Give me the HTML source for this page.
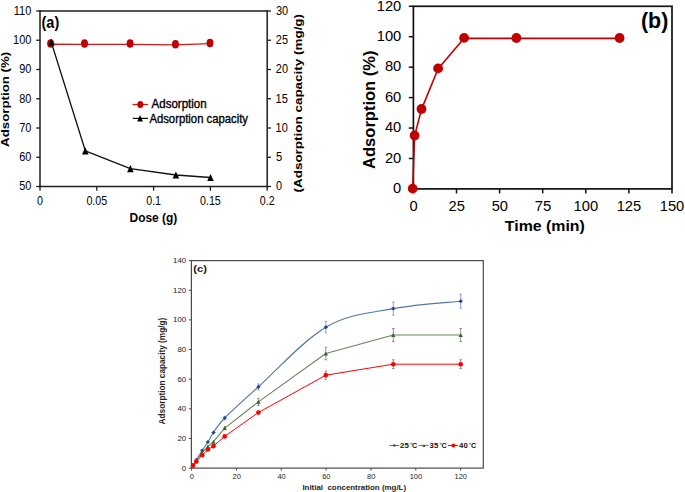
<!DOCTYPE html>
<html><head><meta charset="utf-8"><style>
html,body{margin:0;padding:0;background:#fff;}
body{width:685px;height:492px;overflow:hidden;}
svg{display:block;font-family:"Liberation Sans",sans-serif;}
text{white-space:pre;}
</style></head><body>
<svg width="685" height="492" viewBox="0 0 685 492" xml:space="preserve">
<rect width="685" height="492" fill="#fff"/>
<line x1="40.00" y1="11.00" x2="267.20" y2="11.00" stroke="#1e1e1e" stroke-width="1.5"/>
<line x1="40.00" y1="10.25" x2="40.00" y2="187.25" stroke="#1e1e1e" stroke-width="1.5"/>
<line x1="39.25" y1="186.50" x2="267.95" y2="186.50" stroke="#1e1e1e" stroke-width="1.5"/>
<line x1="267.20" y1="10.25" x2="267.20" y2="186.50" stroke="#1e1e1e" stroke-width="1.5"/>
<line x1="36.20" y1="11.00" x2="40.00" y2="11.00" stroke="#1e1e1e" stroke-width="1.3"/>
<line x1="267.20" y1="11.00" x2="271.00" y2="11.00" stroke="#1e1e1e" stroke-width="1.3"/>
<text x="13.84" y="14.80" font-size="12.57" font-weight="normal" textLength="17.44" lengthAdjust="spacingAndGlyphs" fill="#000">110</text>
<text x="275.96" y="14.80" font-size="12.57" font-weight="normal" textLength="12.17" lengthAdjust="spacingAndGlyphs" fill="#000">30</text>
<line x1="36.20" y1="40.25" x2="40.00" y2="40.25" stroke="#1e1e1e" stroke-width="1.3"/>
<line x1="267.20" y1="40.25" x2="271.00" y2="40.25" stroke="#1e1e1e" stroke-width="1.3"/>
<text x="13.07" y="44.05" font-size="12.57" font-weight="normal" textLength="18.25" lengthAdjust="spacingAndGlyphs" fill="#000">100</text>
<text x="275.85" y="44.05" font-size="12.57" font-weight="normal" textLength="12.17" lengthAdjust="spacingAndGlyphs" fill="#000">25</text>
<line x1="36.20" y1="69.50" x2="40.00" y2="69.50" stroke="#1e1e1e" stroke-width="1.3"/>
<line x1="267.20" y1="69.50" x2="271.00" y2="69.50" stroke="#1e1e1e" stroke-width="1.3"/>
<text x="19.14" y="73.30" font-size="12.57" font-weight="normal" textLength="12.17" lengthAdjust="spacingAndGlyphs" fill="#000">90</text>
<text x="275.85" y="73.30" font-size="12.57" font-weight="normal" textLength="12.17" lengthAdjust="spacingAndGlyphs" fill="#000">20</text>
<line x1="36.20" y1="98.75" x2="40.00" y2="98.75" stroke="#1e1e1e" stroke-width="1.3"/>
<line x1="267.20" y1="98.75" x2="271.00" y2="98.75" stroke="#1e1e1e" stroke-width="1.3"/>
<text x="19.14" y="102.55" font-size="12.57" font-weight="normal" textLength="12.17" lengthAdjust="spacingAndGlyphs" fill="#000">80</text>
<text x="275.57" y="102.55" font-size="12.75" font-weight="normal" textLength="12.34" lengthAdjust="spacingAndGlyphs" fill="#000">15</text>
<line x1="36.20" y1="128.00" x2="40.00" y2="128.00" stroke="#1e1e1e" stroke-width="1.3"/>
<line x1="267.20" y1="128.00" x2="271.00" y2="128.00" stroke="#1e1e1e" stroke-width="1.3"/>
<text x="19.14" y="131.80" font-size="12.57" font-weight="normal" textLength="12.17" lengthAdjust="spacingAndGlyphs" fill="#000">70</text>
<text x="275.58" y="131.80" font-size="12.57" font-weight="normal" textLength="12.17" lengthAdjust="spacingAndGlyphs" fill="#000">10</text>
<line x1="36.20" y1="157.25" x2="40.00" y2="157.25" stroke="#1e1e1e" stroke-width="1.3"/>
<line x1="267.20" y1="157.25" x2="271.00" y2="157.25" stroke="#1e1e1e" stroke-width="1.3"/>
<text x="19.14" y="161.05" font-size="12.57" font-weight="normal" textLength="12.17" lengthAdjust="spacingAndGlyphs" fill="#000">60</text>
<text x="275.96" y="161.05" font-size="12.75" font-weight="normal" textLength="6.17" lengthAdjust="spacingAndGlyphs" fill="#000">5</text>
<line x1="36.20" y1="186.50" x2="40.00" y2="186.50" stroke="#1e1e1e" stroke-width="1.3"/>
<line x1="267.20" y1="186.50" x2="271.00" y2="186.50" stroke="#1e1e1e" stroke-width="1.3"/>
<text x="19.14" y="190.30" font-size="12.57" font-weight="normal" textLength="12.17" lengthAdjust="spacingAndGlyphs" fill="#000">50</text>
<text x="275.96" y="190.30" font-size="12.57" font-weight="normal" textLength="6.08" lengthAdjust="spacingAndGlyphs" fill="#000">0</text>
<line x1="40.00" y1="186.50" x2="40.00" y2="190.70" stroke="#1e1e1e" stroke-width="1.3"/>
<text x="37.01" y="204.50" font-size="12.29" font-weight="normal" textLength="5.94" lengthAdjust="spacingAndGlyphs" fill="#000">0</text>
<line x1="96.80" y1="186.50" x2="96.80" y2="190.70" stroke="#1e1e1e" stroke-width="1.3"/>
<text x="86.41" y="204.50" font-size="12.29" font-weight="normal" textLength="20.80" lengthAdjust="spacingAndGlyphs" fill="#000">0.05</text>
<line x1="153.60" y1="186.50" x2="153.60" y2="190.70" stroke="#1e1e1e" stroke-width="1.3"/>
<text x="146.20" y="204.50" font-size="12.29" font-weight="normal" textLength="14.86" lengthAdjust="spacingAndGlyphs" fill="#000">0.1</text>
<line x1="210.40" y1="186.50" x2="210.40" y2="190.70" stroke="#1e1e1e" stroke-width="1.3"/>
<text x="200.01" y="204.50" font-size="12.29" font-weight="normal" textLength="20.80" lengthAdjust="spacingAndGlyphs" fill="#000">0.15</text>
<line x1="267.20" y1="186.50" x2="267.20" y2="190.70" stroke="#1e1e1e" stroke-width="1.3"/>
<text x="259.82" y="204.50" font-size="12.29" font-weight="normal" textLength="14.86" lengthAdjust="spacingAndGlyphs" fill="#000">0.2</text>
<text x="129.52" y="222.30" font-size="12.41" font-weight="bold" textLength="47.78" lengthAdjust="spacingAndGlyphs" fill="#000" >Dose (g)</text>
<text x="41.58" y="27.97" font-size="16.79" font-weight="bold" textLength="17.60" lengthAdjust="spacingAndGlyphs" fill="#000" >(a)</text>
<text transform="translate(8.86,146.93) rotate(-90)" x="0" y="0" font-size="11.12" font-weight="bold" textLength="95.14" lengthAdjust="spacingAndGlyphs" fill="#000">Adsorption (%)</text>
<text transform="translate(301.64,192.47) rotate(-90)" x="0" y="0" font-size="11.23" font-weight="bold" textLength="178.53" lengthAdjust="spacingAndGlyphs" fill="#000">(Adsorption capacity (mg/g)</text>
<line x1="132.50" y1="104.50" x2="148.00" y2="104.50" stroke="#c81c1c" stroke-width="1.3"/>
<ellipse cx="140.30" cy="104.50" rx="3.0" ry="3.5" fill="#c00000"/>
<text x="151.60" y="108.00" font-size="11.86" font-weight="normal" textLength="55.06" lengthAdjust="spacingAndGlyphs" fill="#000" stroke="#000" stroke-width="0.35">Adsorption</text>
<line x1="132.80" y1="118.40" x2="147.90" y2="118.40" stroke="#000" stroke-width="1.2"/>
<polygon points="140.10,114.90 143.00,121.50 137.20,121.50" fill="#000"/>
<text x="149.40" y="122.70" font-size="12.55" font-weight="normal" textLength="98.63" lengthAdjust="spacingAndGlyphs" fill="#000" stroke="#000" stroke-width="0.35">Adsorption capacity</text>
<polyline points="50.60,44.25 84.50,44.35 130.10,44.35 175.45,44.95 210.00,43.65" fill="none" stroke="#c81c1c" stroke-width="1.3" stroke-linejoin="round"/>
<ellipse cx="50.60" cy="43.50" rx="3.5" ry="4.25" fill="#c00000"/>
<ellipse cx="84.50" cy="43.60" rx="3.5" ry="4.25" fill="#c00000"/>
<ellipse cx="130.10" cy="43.60" rx="3.5" ry="4.25" fill="#c00000"/>
<ellipse cx="175.45" cy="44.20" rx="3.5" ry="4.25" fill="#c00000"/>
<ellipse cx="210.00" cy="42.90" rx="3.5" ry="4.25" fill="#c00000"/>
<polyline points="51.30,42.20 85.30,150.80 130.40,168.70 175.90,175.00 210.50,177.50" fill="none" stroke="#111" stroke-width="1.3" stroke-linejoin="round"/>
<polygon points="51.30,38.60 54.60,45.80 48.00,45.80" fill="#000"/>
<polygon points="85.30,147.20 88.60,154.40 82.00,154.40" fill="#000"/>
<polygon points="130.40,165.10 133.70,172.30 127.10,172.30" fill="#000"/>
<polygon points="175.90,171.40 179.20,178.60 172.60,178.60" fill="#000"/>
<polygon points="210.50,173.90 213.80,181.10 207.20,181.10" fill="#000"/>
<rect x="413.4" y="6.3" width="258.6" height="182.6" fill="none" stroke="#111" stroke-width="1.7"/>
<line x1="408.80" y1="188.90" x2="413.40" y2="188.90" stroke="#111" stroke-width="1.5"/>
<text x="393.05" y="193.20" font-size="14.86" font-weight="normal" textLength="8.18" lengthAdjust="spacingAndGlyphs" fill="#000">0</text>
<line x1="408.80" y1="158.47" x2="413.40" y2="158.47" stroke="#111" stroke-width="1.5"/>
<text x="384.89" y="162.77" font-size="14.86" font-weight="normal" textLength="16.36" lengthAdjust="spacingAndGlyphs" fill="#000">20</text>
<line x1="408.80" y1="128.03" x2="413.40" y2="128.03" stroke="#111" stroke-width="1.5"/>
<text x="384.89" y="132.33" font-size="14.86" font-weight="normal" textLength="16.36" lengthAdjust="spacingAndGlyphs" fill="#000">40</text>
<line x1="408.80" y1="97.60" x2="413.40" y2="97.60" stroke="#111" stroke-width="1.5"/>
<text x="384.89" y="101.90" font-size="14.86" font-weight="normal" textLength="16.36" lengthAdjust="spacingAndGlyphs" fill="#000">60</text>
<line x1="408.80" y1="67.17" x2="413.40" y2="67.17" stroke="#111" stroke-width="1.5"/>
<text x="384.89" y="71.47" font-size="14.86" font-weight="normal" textLength="16.36" lengthAdjust="spacingAndGlyphs" fill="#000">80</text>
<line x1="408.80" y1="36.73" x2="413.40" y2="36.73" stroke="#111" stroke-width="1.5"/>
<text x="376.73" y="41.03" font-size="14.86" font-weight="normal" textLength="24.54" lengthAdjust="spacingAndGlyphs" fill="#000">100</text>
<line x1="408.80" y1="6.30" x2="413.40" y2="6.30" stroke="#111" stroke-width="1.5"/>
<text x="376.73" y="10.60" font-size="14.86" font-weight="normal" textLength="24.54" lengthAdjust="spacingAndGlyphs" fill="#000">120</text>
<line x1="413.40" y1="188.90" x2="413.40" y2="193.40" stroke="#111" stroke-width="1.5"/>
<text x="409.59" y="210.60" font-size="15.14" font-weight="normal" textLength="8.17" lengthAdjust="spacingAndGlyphs" fill="#000">0</text>
<line x1="456.50" y1="188.90" x2="456.50" y2="193.40" stroke="#111" stroke-width="1.5"/>
<text x="448.57" y="210.60" font-size="15.14" font-weight="normal" textLength="16.34" lengthAdjust="spacingAndGlyphs" fill="#000">25</text>
<line x1="499.60" y1="188.90" x2="499.60" y2="193.40" stroke="#111" stroke-width="1.5"/>
<text x="491.71" y="210.60" font-size="15.14" font-weight="normal" textLength="16.34" lengthAdjust="spacingAndGlyphs" fill="#000">50</text>
<line x1="542.70" y1="188.90" x2="542.70" y2="193.40" stroke="#111" stroke-width="1.5"/>
<text x="534.66" y="210.60" font-size="15.36" font-weight="normal" textLength="16.58" lengthAdjust="spacingAndGlyphs" fill="#000">75</text>
<line x1="585.80" y1="188.90" x2="585.80" y2="193.40" stroke="#111" stroke-width="1.5"/>
<text x="573.58" y="210.60" font-size="15.14" font-weight="normal" textLength="24.51" lengthAdjust="spacingAndGlyphs" fill="#000">100</text>
<line x1="628.90" y1="188.90" x2="628.90" y2="193.40" stroke="#111" stroke-width="1.5"/>
<text x="616.71" y="210.60" font-size="15.14" font-weight="normal" textLength="24.51" lengthAdjust="spacingAndGlyphs" fill="#000">125</text>
<line x1="672.00" y1="188.90" x2="672.00" y2="193.40" stroke="#111" stroke-width="1.5"/>
<text x="659.78" y="210.60" font-size="15.14" font-weight="normal" textLength="24.51" lengthAdjust="spacingAndGlyphs" fill="#000">150</text>
<text x="504.84" y="231.00" font-size="15.03" font-weight="bold" textLength="80.02" lengthAdjust="spacingAndGlyphs" fill="#000" >Time (min)</text>
<text x="640.93" y="28.49" font-size="21.50" font-weight="bold" textLength="27.38" lengthAdjust="spacingAndGlyphs" fill="#000" >(b)</text>
<text transform="translate(374.90,168.91) rotate(-90)" x="0" y="0" font-size="15.72" font-weight="bold" textLength="118.37" lengthAdjust="spacingAndGlyphs" fill="#000">Adsorption (%)</text>
<polyline points="412.70,189.00 414.60,135.90 421.50,109.40 438.10,68.80 464.10,38.30 516.40,38.40 619.60,38.40" fill="none" stroke="#c00000" stroke-width="1.6" stroke-linejoin="round"/>
<ellipse cx="412.70" cy="188.60" rx="4.9" ry="4.9" fill="#c00000"/>
<ellipse cx="414.60" cy="135.50" rx="4.9" ry="4.9" fill="#c00000"/>
<ellipse cx="421.50" cy="109.00" rx="4.9" ry="4.9" fill="#c00000"/>
<ellipse cx="438.10" cy="68.40" rx="4.9" ry="4.9" fill="#c00000"/>
<ellipse cx="464.10" cy="37.90" rx="4.9" ry="4.9" fill="#c00000"/>
<ellipse cx="516.40" cy="38.00" rx="4.9" ry="4.9" fill="#c00000"/>
<ellipse cx="619.60" cy="38.00" rx="4.9" ry="4.9" fill="#c00000"/>
<rect x="191.4" y="260.6" width="291.9" height="207.5" fill="none" stroke="#4a4a4a" stroke-width="1.2"/>
<line x1="188.80" y1="468.10" x2="191.40" y2="468.10" stroke="#4a4a4a" stroke-width="1.0"/>
<text x="181.81" y="470.70" font-size="7.86" font-weight="normal" textLength="4.37" lengthAdjust="spacingAndGlyphs" fill="#222">0</text>
<line x1="188.80" y1="438.46" x2="191.40" y2="438.46" stroke="#4a4a4a" stroke-width="1.0"/>
<text x="177.45" y="441.06" font-size="7.86" font-weight="normal" textLength="8.74" lengthAdjust="spacingAndGlyphs" fill="#222">20</text>
<line x1="188.80" y1="408.81" x2="191.40" y2="408.81" stroke="#4a4a4a" stroke-width="1.0"/>
<text x="177.45" y="411.41" font-size="7.86" font-weight="normal" textLength="8.74" lengthAdjust="spacingAndGlyphs" fill="#222">40</text>
<line x1="188.80" y1="379.17" x2="191.40" y2="379.17" stroke="#4a4a4a" stroke-width="1.0"/>
<text x="177.45" y="381.77" font-size="7.86" font-weight="normal" textLength="8.74" lengthAdjust="spacingAndGlyphs" fill="#222">60</text>
<line x1="188.80" y1="349.53" x2="191.40" y2="349.53" stroke="#4a4a4a" stroke-width="1.0"/>
<text x="177.45" y="352.13" font-size="7.86" font-weight="normal" textLength="8.74" lengthAdjust="spacingAndGlyphs" fill="#222">80</text>
<line x1="188.80" y1="319.89" x2="191.40" y2="319.89" stroke="#4a4a4a" stroke-width="1.0"/>
<text x="173.09" y="322.49" font-size="7.86" font-weight="normal" textLength="13.11" lengthAdjust="spacingAndGlyphs" fill="#222">100</text>
<line x1="188.80" y1="290.24" x2="191.40" y2="290.24" stroke="#4a4a4a" stroke-width="1.0"/>
<text x="173.09" y="292.84" font-size="7.86" font-weight="normal" textLength="13.11" lengthAdjust="spacingAndGlyphs" fill="#222">120</text>
<line x1="188.80" y1="260.60" x2="191.40" y2="260.60" stroke="#4a4a4a" stroke-width="1.0"/>
<text x="173.09" y="263.20" font-size="7.86" font-weight="normal" textLength="13.11" lengthAdjust="spacingAndGlyphs" fill="#222">140</text>
<line x1="191.60" y1="468.10" x2="191.60" y2="470.60" stroke="#4a4a4a" stroke-width="1.0"/>
<text x="189.82" y="479.00" font-size="7.43" font-weight="normal" textLength="4.13" lengthAdjust="spacingAndGlyphs" fill="#222">0</text>
<line x1="236.43" y1="468.10" x2="236.43" y2="470.60" stroke="#4a4a4a" stroke-width="1.0"/>
<text x="232.55" y="479.00" font-size="7.43" font-weight="normal" textLength="8.26" lengthAdjust="spacingAndGlyphs" fill="#222">20</text>
<line x1="281.27" y1="468.10" x2="281.27" y2="470.60" stroke="#4a4a4a" stroke-width="1.0"/>
<text x="277.50" y="479.00" font-size="7.43" font-weight="normal" textLength="8.26" lengthAdjust="spacingAndGlyphs" fill="#222">40</text>
<line x1="326.10" y1="468.10" x2="326.10" y2="470.60" stroke="#4a4a4a" stroke-width="1.0"/>
<text x="322.22" y="479.00" font-size="7.43" font-weight="normal" textLength="8.26" lengthAdjust="spacingAndGlyphs" fill="#222">60</text>
<line x1="370.93" y1="468.10" x2="370.93" y2="470.60" stroke="#4a4a4a" stroke-width="1.0"/>
<text x="367.07" y="479.00" font-size="7.43" font-weight="normal" textLength="8.26" lengthAdjust="spacingAndGlyphs" fill="#222">80</text>
<line x1="415.77" y1="468.10" x2="415.77" y2="470.60" stroke="#4a4a4a" stroke-width="1.0"/>
<text x="409.73" y="479.00" font-size="7.43" font-weight="normal" textLength="12.39" lengthAdjust="spacingAndGlyphs" fill="#222">100</text>
<line x1="460.60" y1="468.10" x2="460.60" y2="470.60" stroke="#4a4a4a" stroke-width="1.0"/>
<text x="454.57" y="479.00" font-size="7.43" font-weight="normal" textLength="12.39" lengthAdjust="spacingAndGlyphs" fill="#222">120</text>
<text x="193.34" y="272.12" font-size="9.41" font-weight="bold" textLength="13.58" lengthAdjust="spacingAndGlyphs" fill="#111" >(c)</text>
<text transform="translate(165.49,424.41) rotate(-90)" x="0" y="0" font-size="8.13" font-weight="bold" textLength="106.68" lengthAdjust="spacingAndGlyphs" fill="#262626">Adsorption capacity (mg/g)</text>
<text x="302.39" y="490.00" font-size="8.00" font-weight="bold" textLength="103.68" lengthAdjust="spacingAndGlyphs" fill="#262626" >Initial  concentration (mg/L)</text>
<path d="M193.02,465.88 C193.58,464.89 194.86,462.49 196.39,459.95 C197.93,457.40 200.33,453.60 202.24,450.61 C204.15,447.62 205.98,445.03 207.86,442.01 C209.73,439.00 210.67,436.53 213.47,432.53 C216.28,428.53 217.22,425.61 224.71,418.00 C232.20,410.40 241.57,402.02 258.43,386.88 C275.28,371.74 303.38,340.19 325.85,327.15 C348.33,314.11 370.80,312.94 393.27,308.62 C415.75,304.30 449.46,302.45 460.70,301.21" fill="none" stroke="#5479a3" stroke-width="1.1"/>
<line x1="224.71" y1="416.23" x2="224.71" y2="419.78" stroke="#8080ff" stroke-width="0.8"/>
<line x1="223.41" y1="416.23" x2="226.01" y2="416.23" stroke="#8080ff" stroke-width="0.8"/>
<line x1="223.41" y1="419.78" x2="226.01" y2="419.78" stroke="#8080ff" stroke-width="0.8"/>
<line x1="258.43" y1="383.91" x2="258.43" y2="389.84" stroke="#8080ff" stroke-width="0.8"/>
<line x1="257.12" y1="383.91" x2="259.73" y2="383.91" stroke="#8080ff" stroke-width="0.8"/>
<line x1="257.12" y1="389.84" x2="259.73" y2="389.84" stroke="#8080ff" stroke-width="0.8"/>
<line x1="325.85" y1="321.37" x2="325.85" y2="332.93" stroke="#8080ff" stroke-width="0.8"/>
<line x1="324.55" y1="321.37" x2="327.15" y2="321.37" stroke="#8080ff" stroke-width="0.8"/>
<line x1="324.55" y1="332.93" x2="327.15" y2="332.93" stroke="#8080ff" stroke-width="0.8"/>
<line x1="393.27" y1="302.10" x2="393.27" y2="315.14" stroke="#8080ff" stroke-width="0.8"/>
<line x1="391.97" y1="302.10" x2="394.57" y2="302.10" stroke="#8080ff" stroke-width="0.8"/>
<line x1="391.97" y1="315.14" x2="394.57" y2="315.14" stroke="#8080ff" stroke-width="0.8"/>
<line x1="460.70" y1="294.24" x2="460.70" y2="308.18" stroke="#8080ff" stroke-width="0.8"/>
<line x1="459.40" y1="294.24" x2="462.00" y2="294.24" stroke="#8080ff" stroke-width="0.8"/>
<line x1="459.40" y1="308.18" x2="462.00" y2="308.18" stroke="#8080ff" stroke-width="0.8"/>
<polygon points="193.02,463.78 195.22,465.88 193.02,467.98 190.82,465.88" fill="#1f4d80"/>
<polygon points="196.39,457.85 198.59,459.95 196.39,462.05 194.19,459.95" fill="#1f4d80"/>
<polygon points="202.24,448.51 204.44,450.61 202.24,452.71 200.04,450.61" fill="#1f4d80"/>
<polygon points="207.86,439.91 210.06,442.01 207.86,444.11 205.66,442.01" fill="#1f4d80"/>
<polygon points="213.47,430.43 215.67,432.53 213.47,434.63 211.28,432.53" fill="#1f4d80"/>
<polygon points="224.71,415.90 226.91,418.00 224.71,420.10 222.51,418.00" fill="#1f4d80"/>
<polygon points="258.43,384.78 260.62,386.88 258.43,388.98 256.23,386.88" fill="#1f4d80"/>
<polygon points="325.85,325.05 328.05,327.15 325.85,329.25 323.65,327.15" fill="#1f4d80"/>
<polygon points="393.27,306.52 395.47,308.62 393.27,310.72 391.07,308.62" fill="#1f4d80"/>
<polygon points="460.70,299.11 462.90,301.21 460.70,303.31 458.50,301.21" fill="#1f4d80"/>
<polyline points="193.02,465.43 196.39,460.69 202.24,452.54 207.86,446.61 213.47,441.72 224.71,428.08 258.43,401.85 325.85,353.53 393.27,335.00 460.70,335.00" fill="none" stroke="#66855a" stroke-width="1.1" stroke-linejoin="round"/>
<line x1="224.71" y1="426.90" x2="224.71" y2="429.27" stroke="#777" stroke-width="0.8"/>
<line x1="223.41" y1="426.90" x2="226.01" y2="426.90" stroke="#777" stroke-width="0.8"/>
<line x1="223.41" y1="429.27" x2="226.01" y2="429.27" stroke="#777" stroke-width="0.8"/>
<line x1="258.43" y1="398.29" x2="258.43" y2="405.41" stroke="#777" stroke-width="0.8"/>
<line x1="257.12" y1="398.29" x2="259.73" y2="398.29" stroke="#777" stroke-width="0.8"/>
<line x1="257.12" y1="405.41" x2="259.73" y2="405.41" stroke="#777" stroke-width="0.8"/>
<line x1="325.85" y1="347.31" x2="325.85" y2="359.76" stroke="#777" stroke-width="0.8"/>
<line x1="324.55" y1="347.31" x2="327.15" y2="347.31" stroke="#777" stroke-width="0.8"/>
<line x1="324.55" y1="359.76" x2="327.15" y2="359.76" stroke="#777" stroke-width="0.8"/>
<line x1="393.27" y1="328.48" x2="393.27" y2="341.53" stroke="#777" stroke-width="0.8"/>
<line x1="391.97" y1="328.48" x2="394.57" y2="328.48" stroke="#777" stroke-width="0.8"/>
<line x1="391.97" y1="341.53" x2="394.57" y2="341.53" stroke="#777" stroke-width="0.8"/>
<line x1="460.70" y1="328.48" x2="460.70" y2="341.53" stroke="#777" stroke-width="0.8"/>
<line x1="459.40" y1="328.48" x2="462.00" y2="328.48" stroke="#777" stroke-width="0.8"/>
<line x1="459.40" y1="341.53" x2="462.00" y2="341.53" stroke="#777" stroke-width="0.8"/>
<polygon points="193.02,463.43 195.17,467.43 190.87,467.43" fill="#3b6428"/>
<polygon points="196.39,458.69 198.54,462.69 194.24,462.69" fill="#3b6428"/>
<polygon points="202.24,450.54 204.39,454.54 200.09,454.54" fill="#3b6428"/>
<polygon points="207.86,444.61 210.01,448.61 205.71,448.61" fill="#3b6428"/>
<polygon points="213.47,439.72 215.62,443.72 211.32,443.72" fill="#3b6428"/>
<polygon points="224.71,426.08 226.86,430.08 222.56,430.08" fill="#3b6428"/>
<polygon points="258.43,399.85 260.57,403.85 256.28,403.85" fill="#3b6428"/>
<polygon points="325.85,351.53 328.00,355.53 323.70,355.53" fill="#3b6428"/>
<polygon points="393.27,333.00 395.42,337.00 391.12,337.00" fill="#3b6428"/>
<polygon points="460.70,333.00 462.85,337.00 458.55,337.00" fill="#3b6428"/>
<polyline points="193.02,465.28 196.39,461.58 202.24,455.21 207.86,449.57 213.47,446.16 224.71,436.38 258.43,412.52 325.85,375.17 393.27,364.20 460.70,364.20" fill="none" stroke="#ff0000" stroke-width="1.0" stroke-linejoin="round"/>
<line x1="224.71" y1="435.49" x2="224.71" y2="437.27" stroke="#777" stroke-width="0.8"/>
<line x1="223.41" y1="435.49" x2="226.01" y2="435.49" stroke="#777" stroke-width="0.8"/>
<line x1="223.41" y1="437.27" x2="226.01" y2="437.27" stroke="#777" stroke-width="0.8"/>
<line x1="258.43" y1="411.04" x2="258.43" y2="414.00" stroke="#777" stroke-width="0.8"/>
<line x1="257.12" y1="411.04" x2="259.73" y2="411.04" stroke="#777" stroke-width="0.8"/>
<line x1="257.12" y1="414.00" x2="259.73" y2="414.00" stroke="#777" stroke-width="0.8"/>
<line x1="325.85" y1="371.02" x2="325.85" y2="379.32" stroke="#777" stroke-width="0.8"/>
<line x1="324.55" y1="371.02" x2="327.15" y2="371.02" stroke="#777" stroke-width="0.8"/>
<line x1="324.55" y1="379.32" x2="327.15" y2="379.32" stroke="#777" stroke-width="0.8"/>
<line x1="393.27" y1="359.76" x2="393.27" y2="368.65" stroke="#777" stroke-width="0.8"/>
<line x1="391.97" y1="359.76" x2="394.57" y2="359.76" stroke="#777" stroke-width="0.8"/>
<line x1="391.97" y1="368.65" x2="394.57" y2="368.65" stroke="#777" stroke-width="0.8"/>
<line x1="460.70" y1="359.76" x2="460.70" y2="368.65" stroke="#777" stroke-width="0.8"/>
<line x1="459.40" y1="359.76" x2="462.00" y2="359.76" stroke="#777" stroke-width="0.8"/>
<line x1="459.40" y1="368.65" x2="462.00" y2="368.65" stroke="#777" stroke-width="0.8"/>
<ellipse cx="193.02" cy="465.28" rx="2.3" ry="2.3" fill="#ff0000"/>
<ellipse cx="196.39" cy="461.58" rx="2.3" ry="2.3" fill="#ff0000"/>
<ellipse cx="202.24" cy="455.21" rx="2.3" ry="2.3" fill="#ff0000"/>
<ellipse cx="207.86" cy="449.57" rx="2.3" ry="2.3" fill="#ff0000"/>
<ellipse cx="213.47" cy="446.16" rx="2.3" ry="2.3" fill="#ff0000"/>
<ellipse cx="224.71" cy="436.38" rx="2.3" ry="2.3" fill="#ff0000"/>
<ellipse cx="258.43" cy="412.52" rx="2.3" ry="2.3" fill="#ff0000"/>
<ellipse cx="325.85" cy="375.17" rx="2.3" ry="2.3" fill="#ff0000"/>
<ellipse cx="393.27" cy="364.20" rx="2.3" ry="2.3" fill="#ff0000"/>
<ellipse cx="460.70" cy="364.20" rx="2.3" ry="2.3" fill="#ff0000"/>
<line x1="389.20" y1="445.50" x2="399.30" y2="445.50" stroke="#5479a3" stroke-width="1.1"/>
<polygon points="394.40,443.90 396.00,445.50 394.40,447.10 392.80,445.50" fill="#1f4d80"/>
<text x="400.13" y="448.10" font-size="7.57" font-weight="bold" textLength="8.69" lengthAdjust="spacingAndGlyphs" fill="#111" >25</text>
<ellipse cx="411.30" cy="443.6" rx="0.55" ry="0.75" fill="none" stroke="#444" stroke-width="0.6"/>
<text x="412.11" y="448.10" font-size="7.57" font-weight="bold" textLength="5.18" lengthAdjust="spacingAndGlyphs" fill="#111" >C</text>
<line x1="418.50" y1="445.50" x2="428.60" y2="445.50" stroke="#66855a" stroke-width="1.1"/>
<polygon points="424.00,444.10 425.50,446.90 422.50,446.90" fill="#3b6428"/>
<text x="429.61" y="448.10" font-size="7.57" font-weight="bold" textLength="8.60" lengthAdjust="spacingAndGlyphs" fill="#111" >35</text>
<ellipse cx="440.70" cy="443.6" rx="0.55" ry="0.75" fill="none" stroke="#444" stroke-width="0.6"/>
<text x="441.51" y="448.10" font-size="7.57" font-weight="bold" textLength="5.18" lengthAdjust="spacingAndGlyphs" fill="#111" >C</text>
<line x1="448.00" y1="445.50" x2="457.80" y2="445.50" stroke="#ff0000" stroke-width="1.1"/>
<ellipse cx="453.40" cy="445.50" rx="1.9" ry="1.9" fill="#ff0000"/>
<text x="459.08" y="448.10" font-size="7.57" font-weight="bold" textLength="8.65" lengthAdjust="spacingAndGlyphs" fill="#111" >40</text>
<ellipse cx="470.10" cy="443.6" rx="0.55" ry="0.75" fill="none" stroke="#444" stroke-width="0.6"/>
<text x="470.91" y="448.10" font-size="7.57" font-weight="bold" textLength="5.18" lengthAdjust="spacingAndGlyphs" fill="#111" >C</text>
</svg>
</body></html>
